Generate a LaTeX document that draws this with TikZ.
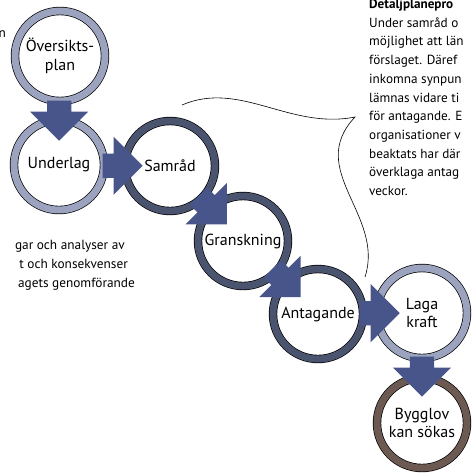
\documentclass[tikz,border=0pt]{standalone}
\usepackage{fontspec}
\setmainfont{PT Sans}
\usetikzlibrary{calc,positioning,shapes.arrows}

\definecolor{ringlight}{RGB}{155,163,190}
\definecolor{ringdark}{RGB}{75,84,111}
\definecolor{ringbrown}{RGB}{108,90,82}
\definecolor{arrowblue}{RGB}{71,85,138}

\tikzset{
    stage/.style={draw=black,circle,line width=0.7pt,double distance=7pt,
        fill=white,minimum size=90pt,inner sep=0pt,align=center,
        font=\fontsize{16}{18.5}\selectfont},
    flow/.style={single arrow,fill=arrowblue,draw=none,
        inner xsep=0pt,inner ysep=12pt,minimum height=40pt,
        single arrow head extend=17pt,anchor=tip},
    note/.style={inner sep=0pt,font=\fontsize{13.2}{18.7}\selectfont},
    sidenote/.style={note,font=\fontsize{13.3}{19}\selectfont},
}

\begin{document}
\begin{tikzpicture}[x=1pt,y=-1pt]
    \useasboundingbox (0,0) rectangle (473,472);
    \clip (0,0) rectangle (473,472);

    % stages
    \node[stage,double=ringlight] (oplan) at (60,56) {Översikts-\\plan};
    \node[stage,double=ringlight] (uland) at (59,165) {Underlag};
    \node[stage,double=ringdark] (samrad) at (170,166) {Samråd};
    \node[stage,double=ringdark] (gransk) at (243,241) {Granskning};
    \node[stage,double=ringdark] (antag) at (318,314) {Antagande};
    \node[stage,double=ringlight] (laga) at (422,313) {Laga\\kraft};
    \node[stage,double=ringbrown] (bygg) at (422,423) {Bygglov\\kan sökas};

    % arrows between stages
    \node[flow,rotate=-90] (f1) at ($(uland)!24pt!(oplan)$) {};
    \node[flow] (f2) at ($(samrad)!27pt!(uland)$) {};
    \node[flow,rotate=-45] (f3) at ($(gransk)!23pt!(samrad)$) {};
    \node[flow,rotate=-45] (f4) at ($(antag)!24pt!(gransk)$) {};
    \node[flow] (f5) at ($(laga)!22pt!(antag)$) {};
    \node[flow,rotate=-90] (f6) at ($(bygg)!26pt!(laga)$) {};

    % callout line
    \coordinate (callA) at (182,105);
    \coordinate (callTip) at (355,117);
    \coordinate (callB) at (365,277);
    \draw[line width=0.6pt] (callA) .. controls (240,80) and (290,130) .. (callTip)
        .. controls (305,170) and (385,215) .. (callB);

    % texts
    \node[note,anchor=north west,align=left] (info) at (369,-1)
        {\textbf{Detaljplanepro}\\Under samråd o\\möjlighet att län\\förslaget.  Däref\\inkomna synpun\\lämnas vidare ti\\för antagande. E\\organisationer v\\beaktats har där\\överklaga antag\\veckor.};
    \node[sidenote,anchor=base east] (top) at (6,37) {n};
    \node[sidenote,anchor=base east] (ul1) at (125,249) {gar och analyser av};
    \node[sidenote,anchor=base east] (ul2) at (128,268) {t och konsekvenser};
    \node[sidenote,anchor=base east] (ul3) at (135,287) {agets genomförande};
\end{tikzpicture}
\end{document}
